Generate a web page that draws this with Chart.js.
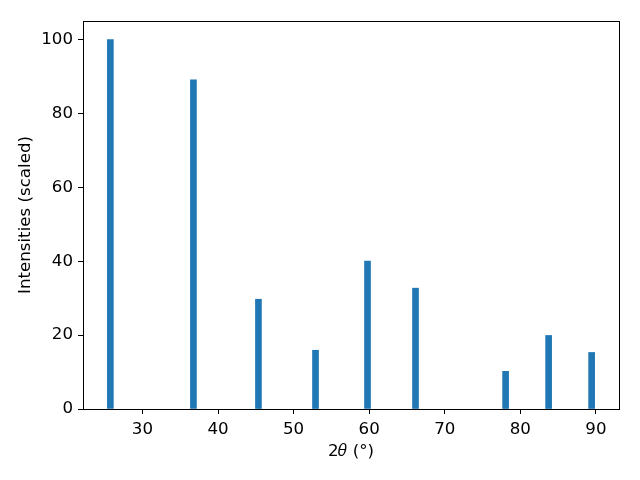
<!DOCTYPE html>
<html>
<head>
<meta charset="utf-8">
<script src="https://cdn.jsdelivr.net/npm/chart.js@4"></script>
<style>
html,body{margin:0;padding:0;background:#fff;}
#wrap{width:640px;height:480px;}
</style>
</head>
<body>
<div id="wrap"><canvas id="c" width="640" height="480"></canvas></div>
<script>
const twoTheta = [25.76, 36.75, 45.35, 52.9, 59.78, 66.13, 78.05, 83.74, 89.43];
const intensity = [100, 89.1, 29.7, 15.9, 40.0, 32.7, 10.2, 19.9, 15.3];
const xTicks = [30, 40, 50, 60, 70, 80, 90];
const yTicks = [0, 20, 40, 60, 80, 100];

const frame = {
  id: 'frame',
  afterDatasetsDraw(chart) {
    const a = chart.chartArea, ctx = chart.ctx;
    ctx.save();
    ctx.strokeStyle = '#000';
    ctx.lineWidth = 1;
    ctx.strokeRect(Math.round(a.left) + 0.5, Math.round(a.top) + 0.5,
                   Math.round(a.right - a.left), Math.round(a.bottom - a.top));
    ctx.restore();
  }
};

const F = 16.67;

new Chart(document.getElementById('c'), {
  type: 'bar',
  data: {
    datasets: [{
      data: twoTheta.map((x, i) => ({x: x, y: intensity[i]})),
      backgroundColor: '#1f77b4',
      borderWidth: 0,
      barThickness: 6
    }]
  },
  plugins: [frame],
  options: {
    responsive: false,
    animation: false,
    layout: {padding: {left: 0, right: 21, top: 21, bottom: 0}},
    plugins: {legend: {display: false}, tooltip: {enabled: false}},
    scales: {
      x: {
        type: 'linear',
        min: 22.14, max: 93.05,
        offset: false,
        afterBuildTicks: s => { s.ticks = xTicks.map(v => ({value: v})); },
        afterFit: s => { s.height = 71; },
        grid: {offset: false, drawOnChartArea: false, drawTicks: true, tickLength: 5, tickColor: '#000'},
        border: {display: true, color: '#000'},
        ticks: {color: '#000', padding: 5.5, maxRotation: 0, font: {family: 'DejaVu Sans', size: F}},
        title: {display: true, text: '2𝜃 (°)', color: '#000', padding: {top: 0, bottom: 18}, font: {family: 'DejaVu Sans', size: F}}
      },
      y: {
        min: 0, max: 105,
        afterBuildTicks: s => { s.ticks = yTicks.map(v => ({value: v})); },
        afterFit: s => { s.width = 83; },
        grid: {drawOnChartArea: false, drawTicks: true, tickLength: 5, tickColor: '#000'},
        border: {display: true, color: '#000'},
        ticks: {color: '#000', padding: 5, font: {family: 'DejaVu Sans', size: F}},
        title: {display: true, text: 'Intensities (scaled)', color: '#000', padding: {bottom: 0, top: 16}, font: {family: 'DejaVu Sans', size: F}}
      }
    }
  }
});
</script>
</body>
</html>
